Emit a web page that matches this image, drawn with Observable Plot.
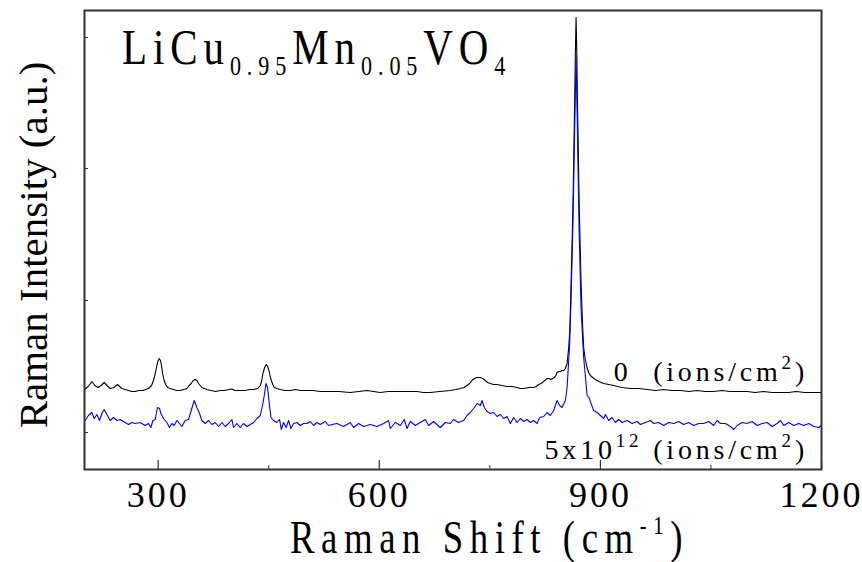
<!DOCTYPE html>
<html>
<head>
<meta charset="utf-8">
<script src="https://cdn.jsdelivr.net/npm/d3@7"></script>
<script src="https://cdn.jsdelivr.net/npm/@observablehq/plot@0.6"></script>
<style>
  html, body { margin: 0; padding: 0; background: #fff; }
  #chart svg { display: block; }
</style>
</head>
<body>
<div id="chart"></div>
<script>
// ---- Data (Raman shift in cm^-1, intensity in arbitrary units) ----
const blackShift = [200,205,210,214,218.6,222.5,226.7,230.5,234.8,240,244.8,250.7,255,259.7,264,268.8,274,279.6,286.8,291,293.6,296,298.2,300,301.4,303,304.5,306,308.1,310,312.6,316.5,320.8,325,329.9,334.5,339,342,344.8,347.5,350.2,352.5,354.7,357,359.3,366.1,372,378,384.2,390,396,400,404,410,418,424,429.4,435,438.5,440.5,442.1,444.4,446.6,448.5,450.3,452,453.5,455.5,457.5,461,465.6,472,480,486,492.8,500,510,520,533.5,545,560.6,572,583.3,592,601.3,612,624,637,651.2,660,669.2,682,696.4,704,710,715,719,722.5,725.8,729,732.6,737,740.5,743.9,747,750.7,755,759.8,766,773.3,780,786.9,791,795.9,803,809.4,813,816.2,819.5,823,827.6,830,833,835,837.5,839.5,841.2,843.5,845.7,848,850.2,852.5,854.8,857,858.5,860.2,861.5,862.9,864,865.1,866,867,868,868.8,870,871.1,872.5,873.8,875.5,877.3,879.5,881.9,884,886.4,889.5,893.2,898,904.5,911,918,929,940.7,952,963.4,975,986,997,1008.6,1020,1031,1042,1053.8,1065,1076,1088,1099.1,1110,1121,1133,1144.3,1155,1166,1177,1188,1198.6,1200];
const blackIntensity = [80,83,88,84,82,84,87,84,81,82,85,81,80,79,78,78,79,79,81,84,89,96,104,109,111,109,104,96,89,85,82,81,80,79,79,80,81,84,86,89,90,89,86,84,82,80,79,78,79,79,80,80.5,79,79,79,80,80,81,84,89,96,102,105,103,99,93,89,85,82,81,80,79,79,80,79,79,79,78,78,78,77,78,79,78,77,78,78,78,78,77,77,78,79,80,81,82,84,86,89,91,92,92,91,89,87,86,85,85,84,83,83,82,81,81,82,82,83,85,86,88,91,91,90,91,92,94,97,98,98,99,99,101,106,122,140,186,225,269,320,369,415,452,415,369,320,269,225,186,150,122,110,102,97,94,92,90,88,86,85,84,82,81,81,80,79,80,79,79,78,79,78,78,79,78,78,78,77,78,77,77,77,78,77,77,77,77];

const blueShift = [200.9,205.4,210,213.1,216.8,220.3,223.6,226.7,230.4,234.8,239.3,243.9,248.4,252.9,259.7,264.3,268.8,275.6,282.4,286.8,290.1,292.8,295.9,299,301.8,303.7,307.2,311.8,315.3,318.6,321.7,325.4,328.9,332.2,336.6,341.1,344.8,348.9,352.5,356.1,359.3,363.8,368.3,372.9,377.4,381.9,386.5,390.9,395.4,400,402.2,406.8,411.3,415.8,420.4,424.9,429.4,434,438.5,442.1,444.3,446.2,448.4,450.7,453,456.5,461.1,464.7,467,470.1,473.7,476.9,480.1,483.7,488.3,492.8,497.2,501.8,506.3,510.8,515.4,519.9,526.7,531.2,536,542.6,551.5,560.6,565.1,571.9,578.7,587.8,596.9,605.8,612.6,614.9,621.7,628.5,633.9,637.6,642.1,648.9,655.6,662.4,666.9,673.7,682.8,689.6,696.4,700.8,707.6,714.4,719,723.5,728,732.6,737.1,739.4,742.5,746.2,750.7,755.1,759.8,764.2,768.7,773.3,777.8,782.3,786.9,791.4,795.9,800.5,805,809.4,814,817.6,823,827.6,832.1,836.6,841.2,844.7,848,852.5,854.8,857,858.3,860.2,862.9,865.1,867,868.8,871.1,873.8,877.3,880,882,884.5,887.3,890.9,895.5,900,904.5,906.8,911.3,915.9,920.3,924.8,929.4,936.2,943,949.8,954.3,961.1,967.8,972.3,979.1,985.9,992.7,999.5,1006.3,1013,1019.8,1026.6,1033.4,1040.2,1047,1053.8,1058.3,1062.9,1069.7,1076.4,1081,1085.5,1092.3,1099.1,1105.9,1112.7,1119.5,1126.3,1133,1139.8,1144.3,1148.8,1155.6,1162.4,1169.2,1176,1182.8,1189.6,1196.3,1199.5];
const blueIntensity = [49,54,57,51,55,49,56,60,55,49,52,49,50,48,45,47,46,47,44,46,42,49,50,62,61,56,51,47,42,46,44,49,46,43,49,50,59,69,62,56,49,46,49,45,47,43,47,43,46,50,42,46,42,46,43,45,47,51,54,66,76,86,82,66,52,49,47,50,40,47,42,49,41,46,47,44,46,46,48,44,47,45,48,44,45,46,43,47,42,46,43,45,43,46,49,41,47,44,50,41,48,44,47,50,44,48,42,47,46,50,47,49,54,57,61,66,64,69,62,58,56,57,53,55,51,53,46,52,47,51,48,50,47,49,46,52,53,57,54,59,69,64,62,69,82,109,125,170,250,340,414,340,240,160,112,90,74,72,66,59,57,54,51,55,49,52,47,50,47,49,46,48,45,47,49,46,47,44,47,46,48,45,47,44,46,46,48,44,49,46,46,43,40,44,47,46,48,44,46,47,43,46,49,44,47,44,46,44,46,43,42,44];

const xMajorTicks = [300, 600, 900, 1200];
const xMinorTicks = [450, 750, 1050];
const yTicks = [37, 169, 301, 432];

const blackData = blackShift.map((x, i) => ({shift: x, intensity: blackIntensity[i]}));
const blueData = blueShift.map((x, i) => ({shift: x, intensity: blueIntensity[i]}));

const serif = "'Liberation Serif','Times New Roman',serif";
const frameColor = "#333";

const chart = Plot.plot({
  width: 862,
  height: 562,
  marginLeft: 84,
  marginRight: 41,
  marginTop: 10,
  marginBottom: 93,
  style: {background: "white", color: "black", fontFamily: serif},
  x: {domain: [200, 1200]},
  y: {domain: [0, 459], axis: null},
  marks: [
    Plot.line(blackData, {x: "shift", y: "intensity", stroke: "black", strokeWidth: 1.1}),
    Plot.line(blueData, {x: "shift", y: "intensity", stroke: "#0000ff", strokeWidth: 1.1}),
    Plot.tickX(xMajorTicks, {x: d => d, insetTop: 450, stroke: frameColor, strokeWidth: 1.2}),
    Plot.tickX(xMinorTicks, {x: d => d, insetTop: 455, stroke: frameColor, strokeWidth: 1}),
    Plot.tickY(yTicks, {y: d => d, insetRight: 733, stroke: frameColor, strokeWidth: 1}),
    Plot.axisX(xMajorTicks, {tickSize: 0, tickPadding: 12, fontSize: 36, fontFamily: serif, label: null, fill: "black", tickFormat: d => String(d)}),
    Plot.frame({stroke: frameColor, strokeWidth: 2})
  ]
});

document.getElementById("chart").appendChild(chart);

const svg = d3.select(chart);
svg.selectAll('g[aria-label="x-axis tick label"] text').style("letter-spacing", "3px");

function richText({x, y, anchor = "start", size, spacing = 0, sx = 1, rotate = 0, parts}) {
  const t = svg.append("text")
    .attr("transform", `translate(${x},${y}) rotate(${rotate}) scale(${sx},1)`)
    .attr("text-anchor", anchor)
    .attr("font-family", serif)
    .attr("font-size", size)
    .attr("fill", "black")
    .style("letter-spacing", spacing + "px")
    .style("white-space", "pre");
  for (const p of parts) {
    const ts = t.append("tspan").text(p.text);
    if (p.size) ts.attr("font-size", p.size);
    if (p.dy) ts.attr("dy", p.dy);
  }
  return t;
}

// Title: LiCu0.95Mn0.05VO4
richText({x: 122, y: 64, size: 50, spacing: 7.2, sx: 0.82, parts: [
  {text: "LiCu"},
  {text: "0.95", size: 27, dy: 11},
  {text: "Mn", dy: -11},
  {text: "0.05", size: 27, dy: 11},
  {text: "VO", dy: -11},
  {text: "4", size: 27, dy: 11}
]});

// Series labels
richText({x: 808, y: 381, anchor: "end", size: 28, spacing: 3.8, parts: [
  {text: "0  (ions/cm"},
  {text: "2", size: 19, dy: -12},
  {text: ")", dy: 12}
]});
richText({x: 808, y: 459, anchor: "end", size: 28, spacing: 3.8, parts: [
  {text: "5x10"},
  {text: "12", size: 19, dy: -12},
  {text: " (ions/cm", dy: 12},
  {text: "2", size: 19, dy: -12},
  {text: ")", dy: 12}
]});

// Axis titles
richText({x: 290, y: 553, size: 46, spacing: 8.2, sx: 0.8, parts: [
  {text: "Raman Shift (cm"},
  {text: "-1", size: 26, dy: -19},
  {text: ")", dy: 19}
]});
richText({x: 47, y: 245, anchor: "middle", size: 41, rotate: -90, parts: [
  {text: "Raman Intensity (a.u.)"}
]});
</script>
</body>
</html>
